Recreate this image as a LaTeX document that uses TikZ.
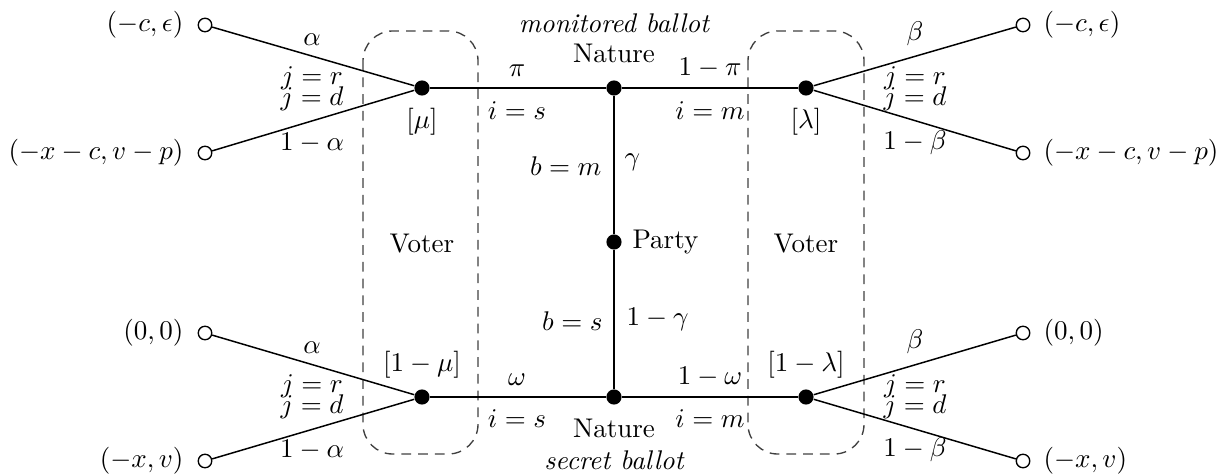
\documentclass[tikz,border=0pt]{standalone}
\begin{document}
\begin{tikzpicture}[x=0.37pt,y=-0.37pt,
  dec/.style={circle,fill=black,inner sep=0pt,minimum size=5.6pt},
  term/.style={circle,draw,fill=white,inner sep=0pt,minimum size=5pt,line width=0.5pt},
  mainedge/.style={line width=0.9pt},
  branch/.style={line width=0.55pt},
  infoset/.style={draw=black!75,dash pattern=on 3.6pt off 2.6pt,rounded corners=11pt,line width=0.5pt},
  lbl/.style={inner sep=0pt}]
\useasboundingbox (0,0) rectangle (1224,474);
% information sets
\draw[infoset] (363,31) rectangle (478,454);
\draw[infoset] (748,31) rectangle (864,454);
% decision nodes
\node[dec] (vtl) at (422,88) {};
\node[dec] (vbl) at (422,397) {};
\node[dec] (nt) at (614,88) {};
\node[dec] (nb) at (614,397) {};
\node[dec] (pa) at (614,242) {};
\node[dec] (vtr) at (806,88) {};
\node[dec] (vbr) at (806,397) {};
% terminal nodes
\node[term] (t1) at (205,25) {};
\node[term] (t2) at (205,153) {};
\node[term] (t3) at (205,333) {};
\node[term] (t4) at (205,461) {};
\node[term] (t5) at (1023,25) {};
\node[term] (t6) at (1023,153) {};
\node[term] (t7) at (1023,333) {};
\node[term] (t8) at (1023,461) {};
% main edges
\draw[mainedge] (vtl) -- (nt) -- (vtr);
\draw[mainedge] (vbl) -- (nb) -- (vbr);
\draw[mainedge] (nt) -- (pa) -- (nb);
% branches
\draw[branch] (vtl) -- (t1);
\draw[branch] (vtl) -- (t2);
\draw[branch] (vbl) -- (t3);
\draw[branch] (vbl) -- (t4);
\draw[branch] (vtr) -- (t5);
\draw[branch] (vtr) -- (t6);
\draw[branch] (vbr) -- (t7);
\draw[branch] (vbr) -- (t8);
% payoffs
\node[lbl,anchor=east] (p1) at (184,25) {$(-c,\epsilon)$};
\node[lbl,anchor=east] (p2) at (184,153) {$(-x-c,v-p)$};
\node[lbl,anchor=east] (p3) at (184,333) {$(0,0)$};
\node[lbl,anchor=east] (p4) at (184,461) {$(-x,v)$};
\node[lbl,anchor=west] (p5) at (1043,25) {$(-c,\epsilon)$};
\node[lbl,anchor=west] (p6) at (1043,153) {$(-x-c,v-p)$};
\node[lbl,anchor=west] (p7) at (1043,333) {$(0,0)$};
\node[lbl,anchor=west] (p8) at (1043,461) {$(-x,v)$};
% left voter labels
\node[lbl] (a1) at (312,40) {$\alpha$};
\node[lbl] (jr1) at (312,78) {$j=r$};
\node[lbl] (jd1) at (312,99) {$j=d$};
\node[lbl] (na1) at (312,143) {$1-\alpha$};
\node[lbl] (a2) at (312,348) {$\alpha$};
\node[lbl] (jr2) at (312,386) {$j=r$};
\node[lbl] (jd2) at (312,407) {$j=d$};
\node[lbl] (na2) at (312,450) {$1-\alpha$};
\node[lbl] (mu) at (422,122) {$[\mu]$};
\node[lbl] (nmu) at (422,365) {$[1-\mu]$};
% right voter labels
\node[lbl] (b1) at (915,34) {$\beta$};
\node[lbl] (jr3) at (915,78) {$j=r$};
\node[lbl] (jd3) at (915,99) {$j=d$};
\node[lbl] (nb1) at (915,143) {$1-\beta$};
\node[lbl] (b2) at (915,342) {$\beta$};
\node[lbl] (jr4) at (915,386) {$j=r$};
\node[lbl] (jd4) at (915,407) {$j=d$};
\node[lbl] (nb2) at (915,450) {$1-\beta$};
\node[lbl] (la) at (806,122) {$[\lambda]$};
\node[lbl] (nla) at (806,365) {$[1-\lambda]$};
% nature labels
\node[lbl] (mb) at (614,23) {\itshape monitored ballot};
\node[lbl] (nat1) at (614,53) {Nature};
\node[lbl] (pi) at (517,71) {$\pi$};
\node[lbl] (is1) at (517,111) {$i=s$};
\node[lbl] (npi) at (710,68) {$1-\pi$};
\node[lbl] (im1) at (710,111) {$i=m$};
\node[lbl] (om) at (517,380) {$\omega$};
\node[lbl] (is2) at (517,419) {$i=s$};
\node[lbl] (nom) at (710,377) {$1-\omega$};
\node[lbl] (im2) at (710,419) {$i=m$};
\node[lbl] (nat2) at (614,428) {Nature};
\node[lbl] (sb) at (614,460) {\itshape secret ballot};
% party labels
\node[lbl,anchor=west] (party) at (632,242) {Party};
\node[lbl,anchor=east] (bm) at (602,166) {$b=m$};
\node[lbl,anchor=west] (ga) at (624,162) {$\gamma$};
\node[lbl,anchor=east] (bs) at (603,321) {$b=s$};
\node[lbl,anchor=west] (nga) at (626,319) {$1-\gamma$};
% voter labels
\node[lbl] (vl) at (422,244) {Voter};
\node[lbl] (vr) at (806,244) {Voter};
\end{tikzpicture}
\end{document}
